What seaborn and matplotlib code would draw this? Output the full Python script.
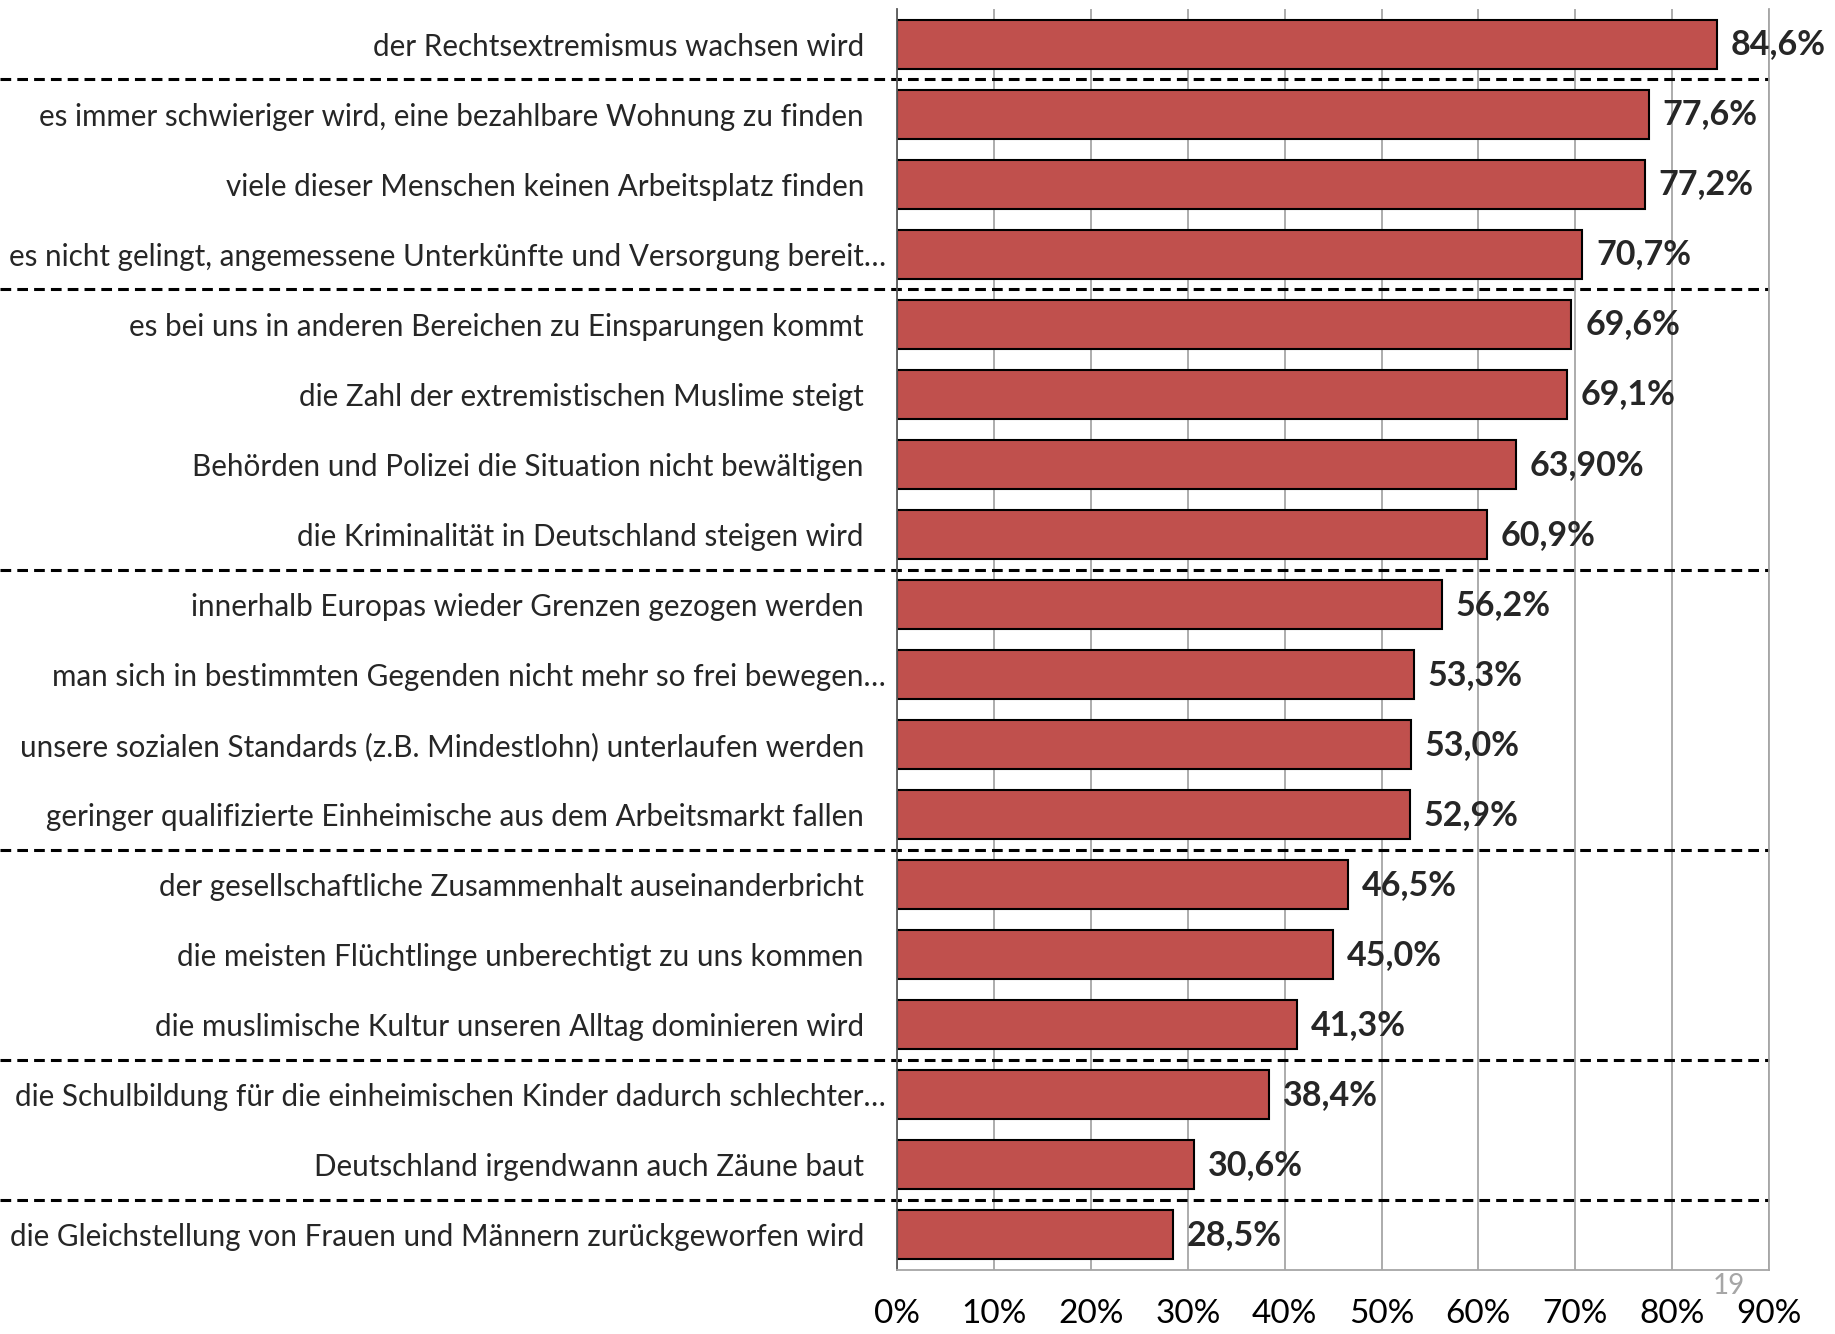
import numpy as np
import pandas as pd
import matplotlib
matplotlib.use("Agg")
import matplotlib.pyplot as plt
import matplotlib.transforms as mtransforms
import seaborn as sns

# Categories (top to bottom) and values in percent
statements = [
    "der Rechtsextremismus wachsen wird",
    "es immer schwieriger wird, eine bezahlbare Wohnung zu finden",
    "viele dieser Menschen keinen Arbeitsplatz finden",
    "es nicht gelingt, angemessene Unterkünfte und Versorgung bereit…",
    "es bei uns in anderen Bereichen zu Einsparungen kommt",
    "die Zahl der extremistischen Muslime steigt",
    "Behörden und Polizei die Situation nicht bewältigen",
    "die Kriminalität in Deutschland steigen wird",
    "innerhalb Europas wieder Grenzen gezogen werden",
    "man sich in bestimmten Gegenden nicht mehr so frei bewegen…",
    "unsere sozialen Standards (z.B. Mindestlohn) unterlaufen werden",
    "geringer qualifizierte Einheimische aus dem Arbeitsmarkt fallen",
    "der gesellschaftliche Zusammenhalt auseinanderbricht",
    "die meisten Flüchtlinge unberechtigt zu uns kommen",
    "die muslimische Kultur unseren Alltag dominieren wird",
    "die Schulbildung für die einheimischen Kinder dadurch schlechter…",
    "Deutschland irgendwann auch Zäune baut",
    "die Gleichstellung von Frauen und Männern zurückgeworfen wird",
]
shares = [84.6, 77.6, 77.2, 70.7, 69.6, 69.1, 63.9, 60.9, 56.2,
          53.3, 53.0, 52.9, 46.5, 45.0, 41.3, 38.4, 30.6, 28.5]
value_labels = ["84,6%", "77,6%", "77,2%", "70,7%", "69,6%", "69,1%", "63,90%",
                "60,9%", "56,2%", "53,3%", "53,0%", "52,9%", "46,5%", "45,0%",
                "41,3%", "38,4%", "30,6%", "28,5%"]
# dashed separators are drawn below these row indices
group_breaks = [0, 3, 7, 11, 14, 16]
x_ticks = [0, 10, 20, 30, 40, 50, 60, 70, 80, 90]
page_number = "19"

df = pd.DataFrame({"statement": statements, "share": shares})

sns.set_style("white")
plt.rcParams["font.family"] = ["Lato", "DejaVu Sans"]

fig = plt.figure(figsize=(18.35, 13.34), dpi=100)
ax = fig.add_axes([0.489, 0.048, 0.475, 0.945])

sns.barplot(data=df, x="share", y="statement", orient="h", color="#C0504D",
            saturation=1, width=0.7, edgecolor="black", linewidth=1.5, ax=ax)

ax.set_xlim(0, 90)
ax.set_ylim(len(statements) - 0.5, -0.5)
ax.set_xlabel("")
ax.set_ylabel("")

# vertical grid
ax.set_xticks(x_ticks)
ax.set_xticklabels([f"{t}%" for t in x_ticks], fontsize=24)
ax.xaxis.grid(True, color="#a6a6a6", linewidth=1.3)
ax.set_axisbelow(True)

ax.spines["top"].set_visible(False)
ax.spines["right"].set_color("#a6a6a6")
ax.spines["right"].set_linewidth(1.3)
ax.spines["bottom"].set_color("#a6a6a6")
ax.spines["bottom"].set_linewidth(1.3)
ax.spines["left"].set_color("#595959")
ax.spines["left"].set_linewidth(1.3)

ax.tick_params(axis="x", direction="out", length=9, width=1.3, color="#a6a6a6",
               pad=12, labelcolor="black")
ax.tick_params(axis="y", which="major", length=0, pad=24, labelsize=21.3)
ax.set_yticks(np.arange(len(statements) + 1) - 0.5, minor=True)
ax.tick_params(axis="y", which="minor", direction="out", length=6, width=1.3,
               color="#a6a6a6")

# truncated labels spill a bit further to the right, as in the source
for lbl in ax.get_yticklabels():
    if lbl.get_text().endswith("…"):
        lbl.set_transform(lbl.get_transform() +
                          mtransforms.ScaledTranslation(0.22, 0, fig.dpi_scale_trans))

ax.bar_label(ax.containers[0], labels=value_labels, padding=10,
             fontsize=24.5, fontweight="bold")

# dashed group separators across the whole width
trans = mtransforms.blended_transform_factory(fig.transFigure, ax.transData)
right = ax.get_position().x1
for i in group_breaks:
    ax.plot([0, right], [i + 0.5, i + 0.5], transform=trans, color="black",
            linestyle=(0, (3.5, 2)), linewidth=2.2, clip_on=False)

fig.text(0.942, 0.036, page_number, fontsize=20, color="#a6a6a6",
         ha="center", va="center")

fig.savefig("out.png", dpi=100)
